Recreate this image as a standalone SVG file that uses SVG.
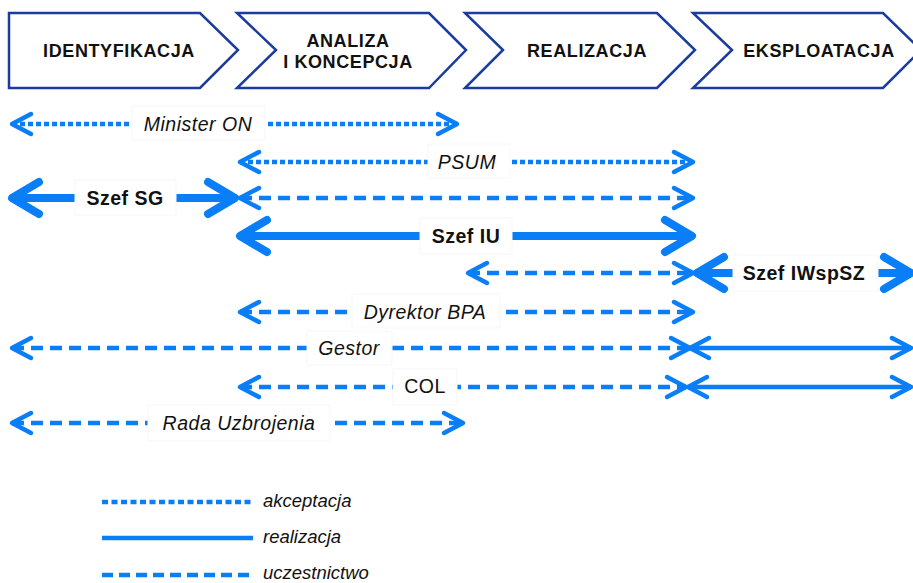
<svg xmlns="http://www.w3.org/2000/svg" width="913" height="583" viewBox="0 0 913 583">
<style>
.ch{fill:#fff;stroke:#1b3c9e;stroke-width:2.5;stroke-linejoin:miter}
.ht{font-family:"Liberation Sans",Arial,sans-serif;font-weight:bold;font-size:18px;fill:#111;text-anchor:middle;letter-spacing:0.6px}
.ln{fill:none;stroke:#0a7ef7;stroke-width:4.5}
.dot{stroke-dasharray:5 3}
.dsh{stroke-dasharray:12 7}
.thk{stroke-width:8}
.bx{fill:#fff;stroke:#f7f7f7;stroke-width:1}
.lt{font-family:"Liberation Sans",Arial,sans-serif;font-size:19.5px;fill:#111;text-anchor:middle;letter-spacing:0.5px}
.it{font-style:italic}
.bd{font-weight:bold}
.lg{font-family:"Liberation Sans",Arial,sans-serif;font-size:18.5px;font-style:italic;fill:#111}
</style>
<defs>
<marker id="hd" markerUnits="userSpaceOnUse" orient="auto-start-reverse" refX="0" refY="0" markerWidth="30" markerHeight="30" overflow="visible">
<path d="M-19,-10 L0,0 L-19,10" fill="none" stroke="#0a7ef7" stroke-width="4.5" stroke-linecap="round" stroke-linejoin="round"/>
</marker>
<marker id="hk" markerUnits="userSpaceOnUse" orient="auto-start-reverse" refX="0" refY="0" markerWidth="40" markerHeight="40" overflow="visible">
<path d="M-27,-16 L0,0 L-27,16" fill="none" stroke="#0a7ef7" stroke-width="8" stroke-linecap="round" stroke-linejoin="round"/>
</marker>
</defs>

<g id="phase-identyfikacja">
<path class="ch" d="M9,13 L200,13 L238,50 L200,88 L9,88 Z"/>
<text class="ht" x="119" y="57">IDENTYFIKACJA</text>
</g>
<g id="phase-analiza">
<path class="ch" d="M237,13 L429,13 L466,50 L429,88 L237,88 L276,50 Z"/>
<text class="ht" x="348" y="47">ANALIZA</text>
<text class="ht" x="348" y="68">I KONCEPCJA</text>
</g>
<g id="phase-realizacja">
<path class="ch" d="M465,13 L657,13 L695,50 L657,88 L465,88 L503,50 Z"/>
<text class="ht" x="587" y="57">REALIZACJA</text>
</g>
<g id="phase-eksploatacja">
<path class="ch" d="M693,13 L883,13 L921,50 L883,88 L693,88 L732,50 Z"/>
<text class="ht" x="819" y="57">EKSPLOATACJA</text>
</g>

<g id="connectors">
<line class="ln dot" x1="12" y1="124" x2="457" y2="124" marker-start="url(#hd)" marker-end="url(#hd)"/>
<line class="ln dot" x1="240" y1="162" x2="693" y2="162" marker-start="url(#hd)" marker-end="url(#hd)"/>
<line class="ln thk" x1="12" y1="198" x2="235" y2="198" marker-start="url(#hk)" marker-end="url(#hk)"/>
<line class="ln dsh" x1="240" y1="198" x2="693" y2="198" marker-start="url(#hd)" marker-end="url(#hd)"/>
<line class="ln thk" x1="240" y1="236" x2="692" y2="236" marker-start="url(#hk)" marker-end="url(#hk)"/>
<line class="ln dsh" x1="468" y1="273" x2="693" y2="273" marker-start="url(#hd)" marker-end="url(#hd)"/>
<line class="ln thk" x1="697" y1="273" x2="911" y2="273" marker-start="url(#hk)" marker-end="url(#hk)"/>
<line class="ln dsh" x1="240" y1="312" x2="693" y2="312" marker-start="url(#hd)" marker-end="url(#hd)"/>
<line class="ln dsh" x1="12" y1="348" x2="690" y2="348" marker-start="url(#hd)" marker-end="url(#hd)"/>
<line class="ln" x1="690" y1="348" x2="911" y2="348" marker-start="url(#hd)" marker-end="url(#hd)"/>
<line class="ln dsh" x1="240" y1="387" x2="686" y2="387" marker-start="url(#hd)" marker-end="url(#hd)"/>
<line class="ln" x1="688" y1="387" x2="911" y2="387" marker-start="url(#hd)" marker-end="url(#hd)"/>
<line class="ln dsh" x1="12" y1="423" x2="463" y2="423" marker-start="url(#hd)" marker-end="url(#hd)"/>
</g>

<g id="label-minister">
<rect class="bx" x="132" y="106" width="133" height="34"/>
<text class="lt it" x="198" y="131">Minister ON</text>
</g>
<g id="label-psum">
<rect class="bx" x="428" y="144" width="82" height="34"/>
<text class="lt it" x="467" y="169">PSUM</text>
</g>
<g id="label-szef-sg">
<rect class="bx" x="75" y="180" width="101" height="35"/>
<text class="lt bd" x="125" y="205">Szef SG</text>
</g>
<g id="label-szef-iu">
<rect class="bx" x="420" y="218" width="92" height="36"/>
<text class="lt bd" x="466" y="243">Szef IU</text>
</g>
<g id="label-szef-iwspsz">
<rect class="bx" x="733" y="255" width="145" height="36"/>
<text class="lt bd" x="804" y="280">Szef IWspSZ</text>
</g>
<g id="label-dyrektor">
<rect class="bx" x="352" y="294" width="148" height="34"/>
<text class="lt it" x="425" y="319">Dyrektor BPA</text>
</g>
<g id="label-gestor">
<rect class="bx" x="307" y="331" width="85" height="34"/>
<text class="lt it" x="349" y="355">Gestor</text>
</g>
<g id="label-col">
<rect class="bx" x="393" y="369" width="64" height="36"/>
<text class="lt" x="425" y="393">COL</text>
</g>
<g id="label-rada">
<rect class="bx" x="148" y="405" width="182" height="36"/>
<text class="lt it" x="239" y="430">Rada Uzbrojenia</text>
</g>

<g id="legend">
<line x1="102" y1="502" x2="253" y2="502" stroke="#0a7ef7" stroke-width="4.5" stroke-dasharray="6 3.5"/>
<text class="lg" x="263" y="507">akceptacja</text>
<line x1="102" y1="538" x2="253" y2="538" stroke="#0a7ef7" stroke-width="4.5"/>
<text class="lg" x="263" y="543">realizacja</text>
<line x1="102" y1="575" x2="253" y2="575" stroke="#0a7ef7" stroke-width="4.5" stroke-dasharray="11 6"/>
<text class="lg" x="263" y="579">uczestnictwo</text>
</g>
</svg>
